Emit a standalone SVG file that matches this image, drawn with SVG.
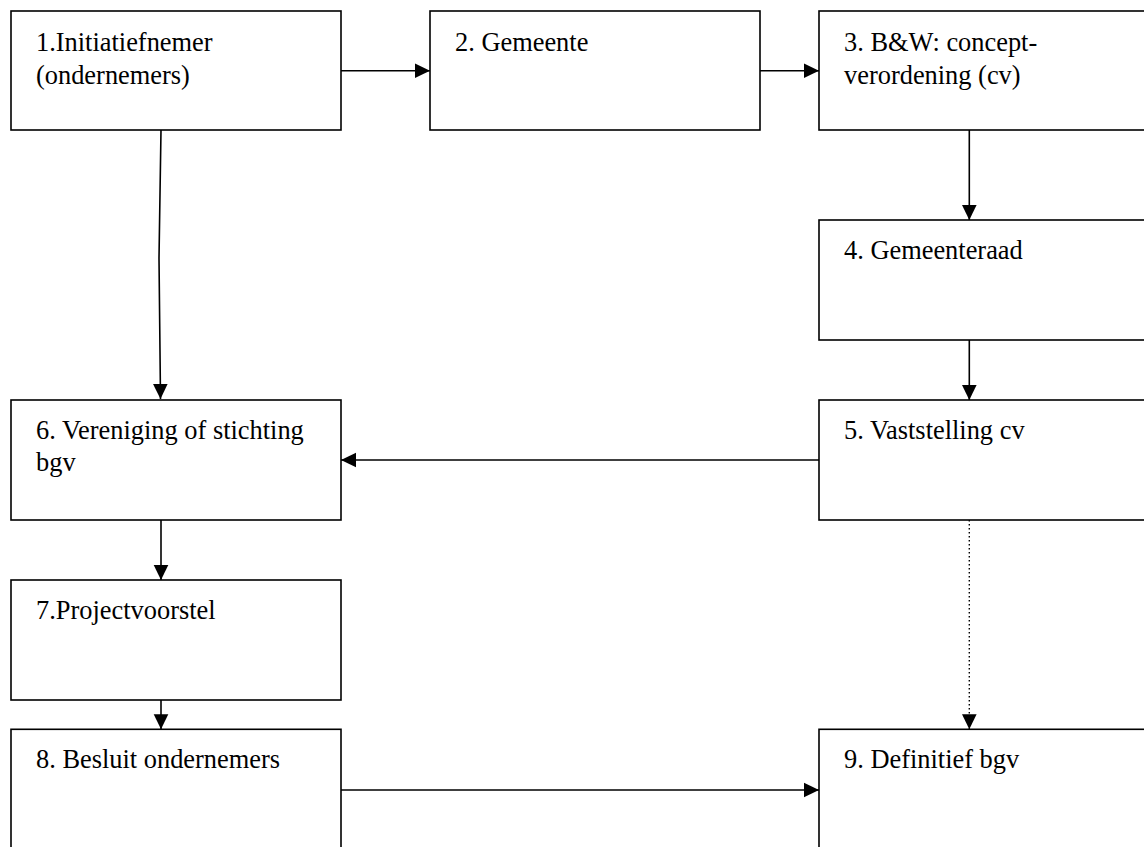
<svg xmlns="http://www.w3.org/2000/svg" width="1144" height="847" viewBox="0 0 1144 847">
<style>
.box{fill:#fff;stroke:#000;stroke-width:1.6}
.lbl{font-family:"Liberation Serif","Times New Roman",serif;font-size:26.4px;fill:#000}
.con{fill:none;stroke:#000;stroke-width:1.6}
.dot{fill:none;stroke:#000;stroke-width:1.4;stroke-dasharray:1.4 2.6}
</style>
<defs>
<marker id="ah" markerUnits="userSpaceOnUse" markerWidth="16" markerHeight="16" viewBox="0 0 16 16" refX="15" refY="8" orient="auto">
<path d="M0,0.7 L15,8 L0,15.3 Z" fill="#000"/>
</marker>
</defs>
<rect width="1144" height="847" fill="#fff"/>
<g id="connectors">
<line class="con" x1="341" y1="70.7" x2="430" y2="70.7" marker-end="url(#ah)"/>
<line class="con" x1="760" y1="70.7" x2="819" y2="70.7" marker-end="url(#ah)"/>
<line class="con" x1="969.3" y1="130" x2="969.3" y2="220" marker-end="url(#ah)"/>
<line class="con" x1="969.3" y1="340" x2="969.3" y2="400" marker-end="url(#ah)"/>
<polyline class="con" points="161,130 159,258 160.5,399" marker-end="url(#ah)"/>
<line class="con" x1="819" y1="460" x2="341" y2="460" marker-end="url(#ah)"/>
<line class="con" x1="161" y1="520" x2="161" y2="580" marker-end="url(#ah)"/>
<line class="con" x1="161" y1="700" x2="161" y2="729.3" marker-end="url(#ah)"/>
<line class="dot" x1="969.3" y1="520" x2="969.3" y2="729.3" marker-end="url(#ah)"/>
<line class="con" x1="341" y1="790" x2="819" y2="790" marker-end="url(#ah)"/>
</g>
<g id="n1"><rect class="box" x="11" y="11" width="330" height="119"/><text class="lbl" x="36" y="51">1.Initiatiefnemer</text><text class="lbl" x="36" y="83.5">(ondernemers)</text></g>
<g id="n2"><rect class="box" x="430" y="11" width="330" height="119"/><text class="lbl" x="455" y="51">2. Gemeente</text></g>
<g id="n3"><rect class="box" x="819" y="11" width="340" height="119"/><text class="lbl" x="844" y="51">3. B&amp;W: concept-</text><text class="lbl" x="844" y="83.5">verordening (cv)</text></g>
<g id="n4"><rect class="box" x="819" y="220" width="340" height="120"/><text class="lbl" x="844" y="258.5">4. Gemeenteraad</text></g>
<g id="n5"><rect class="box" x="819" y="400" width="340" height="120"/><text class="lbl" x="844" y="438.5">5. Vaststelling cv</text></g>
<g id="n6"><rect class="box" x="11" y="400" width="330" height="120"/><text class="lbl" x="36" y="438.5">6. Vereniging of stichting</text><text class="lbl" x="36" y="471">bgv</text></g>
<g id="n7"><rect class="box" x="11" y="580" width="330" height="120"/><text class="lbl" x="36" y="618.5">7.Projectvoorstel</text></g>
<g id="n8"><rect class="box" x="11" y="729.3" width="330" height="140"/><text class="lbl" x="36" y="768">8. Besluit ondernemers</text></g>
<g id="n9"><rect class="box" x="819" y="729.3" width="340" height="140"/><text class="lbl" x="844" y="768">9. Definitief bgv</text></g>
</svg>
